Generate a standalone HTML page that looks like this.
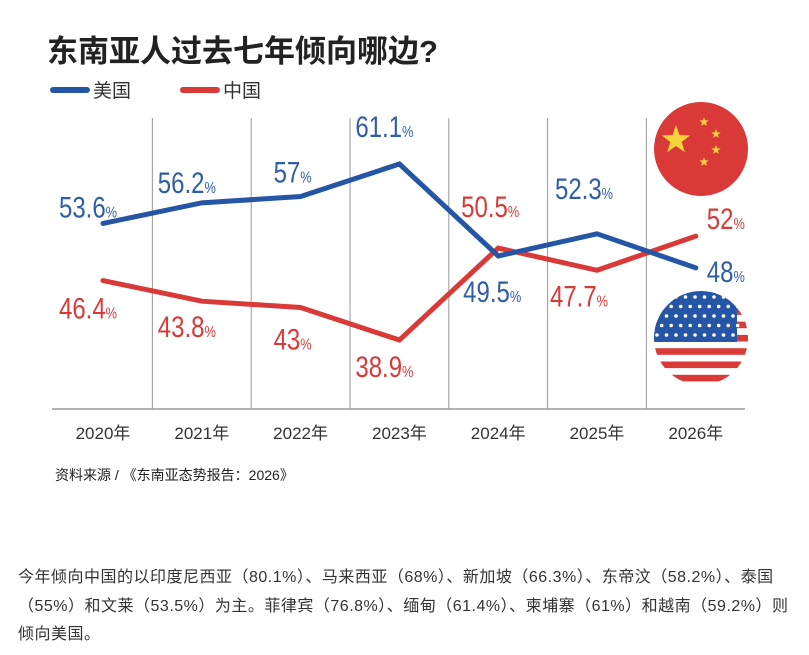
<!DOCTYPE html>
<html><head><meta charset="utf-8">
<style>
html,body{margin:0;padding:0;background:#fff;}
body{width:809px;height:655px;position:relative;overflow:hidden;font-family:"Liberation Sans","Noto Sans CJK SC",sans-serif;}
svg{position:absolute;left:0;top:0;}
.p{position:absolute;left:18px;font-size:16px;letter-spacing:0.5px;color:#333;white-space:nowrap;font-family:"Liberation Sans","Noto Sans CJK SC",sans-serif;}
</style></head>
<body>
<svg id="chart" width="809" height="500">
<text x="47" y="62" font-size="31" font-weight="bold" fill="#222" font-family="'Liberation Sans','Noto Sans CJK SC',sans-serif">东南亚人过去七年倾向哪边?</text>
<g><line x1="53" y1="90" x2="87" y2="90" stroke="#2556a6" stroke-width="6" stroke-linecap="round"/><text x="93" y="97" font-size="19" fill="#333" font-family="'Liberation Sans','Noto Sans CJK SC',sans-serif">美国</text></g>
<g><line x1="183" y1="90" x2="217" y2="90" stroke="#d93a38" stroke-width="6" stroke-linecap="round"/><text x="223" y="97" font-size="19" fill="#333" font-family="'Liberation Sans','Noto Sans CJK SC',sans-serif">中国</text></g>
<g id="grid"></g><g id="xlabels"></g><g id="flags"></g><g id="lines"></g><g id="labels"></g>
<text x="55" y="480" font-size="14" fill="#222" font-family="'Liberation Sans','Noto Sans CJK SC',sans-serif">资料来源 / 《东南亚态势报告：2026》</text>
</svg>
<div class="p" style="top:563px">今年倾向中国的以印度尼西亚（80.1%）、马来西亚（68%）、新加坡（66.3%）、东帝汶（58.2%）、泰国</div>
<div class="p" style="top:592px">（55%）和文莱（53.5%）为主。菲律宾（76.8%）、缅甸（61.4%）、柬埔寨（61%）和越南（59.2%）则</div>
<div class="p" style="top:620px">倾向美国。</div>
<script>
const years = ["2020年","2021年","2022年","2023年","2024年","2025年","2026年"];
const usValues = [53.6,56.2,57,61.1,49.5,52.3,48];
const cnValues = [46.4,43.8,43,38.9,50.5,47.7,52];
const usLabels = ["53.6","56.2","57","61.1","49.5","52.3","48"];
const cnLabels = ["46.4","43.8","43","38.9","50.5","47.7","52"];
const usOff=[[-15,-6],[-15,-10],[-8,-14],[-15,-27],[-6,46],[-13,-35],[30,14]];
const cnOff=[[-15,38],[-15,36],[-8,42],[-15,37],[-8,-31],[-18,36],[30,-7]];
const NS="http://www.w3.org/2000/svg";
const x=i=>103+i*98.8;
const y=v=>164+(61.1-v)*7.93;
function mk(tag,attrs,parent){const e=document.createElementNS(NS,tag);for(const k in attrs)e.setAttribute(k,attrs[k]);parent.appendChild(e);return e;}
const grid=document.getElementById('grid');
for(let i=0;i<6;i++){const l=mk('line',{x1:x(i)+49.4,x2:x(i)+49.4,y1:118,y2:409,stroke:'#999','stroke-width':1},grid);

}
const ax=mk('line',{x1:52,x2:745,y1:409,y2:409,stroke:'#999','stroke-width':1.5},grid);


const xl=document.getElementById('xlabels');
years.forEach((t,i)=>{const e=mk('text',{x:x(i),y:439,'text-anchor':'middle','font-size':17,fill:'#333','font-family':"'Liberation Sans','Noto Sans CJK SC',sans-serif"},xl);e.textContent=t;

});
const fl=document.getElementById('flags');
const cf=mk('g',{},fl);


mk('circle',{cx:701,cy:149,r:47,fill:'#d93a38'},cf);
function star(cx,cy,r,p){let s='';for(let k=0;k<10;k++){const a=-Math.PI/2+k*Math.PI/5;const rr=k%2?r*0.4:r;s+=(cx+rr*Math.cos(a))+','+(cy+rr*Math.sin(a))+' ';}mk('polygon',{points:s,fill:'#f6d23c'},p);}
star(676,140,15,cf);star(704,122,5,cf);star(716,134,5,cf);star(716,150,5,cf);star(704,162,5,cf);
const uf=mk('g',{},fl);


mk('clipPath',{id:'uc'},uf);mk('circle',{cx:701,cy:338,r:47},document.getElementById('uc'));
const ug=mk('g',{'clip-path':'url(#uc)'},uf);
mk('rect',{x:650,y:290,width:110,height:100,fill:'#fff'},ug);
for(let k=0;k<7;k++)mk('rect',{x:650,y:295+k*13.3,width:110,height:6.6,fill:'#d93a38'},ug);
mk('rect',{x:650,y:290,width:87,height:52,fill:'#2556a6'},ug);
for(let r=0;r<5;r++)for(let c=0;c<9;c++)mk('circle',{cx:657+c*9.5+(r%2)*4.7,cy:297+r*9.5,r:1.8,fill:'#fff'},ug);
const lg=document.getElementById('lines');
function series(vals,color,name){const pts=vals.map((v,i)=>x(i)+','+y(v)).join(' ');const p=mk('polyline',{points:pts,fill:'none',stroke:color,'stroke-width':5,'stroke-linecap':'round','stroke-linejoin':'miter'},lg);

}
series(cnValues,'#d93a38','china-line');
series(usValues,'#2556a6','us-line');
const lb=document.getElementById('labels');
function labels(vals,txt,off,color,name){vals.forEach((v,i)=>{const tx=x(i)+off[i][0], ty=y(v)+off[i][1];
const t=mk('text',{x:0,y:0,transform:'translate('+tx+','+ty+') scale(0.8,1)','text-anchor':'middle',fill:color,'font-family':"'Liberation Sans',sans-serif"},lb);


const a=mk('tspan',{'font-size':30},t);a.textContent=txt[i];const b=mk('tspan',{'font-size':16},t);b.textContent='%';});}
labels(usValues,usLabels,usOff,'#2f5ea8','us-value-label');
labels(cnValues,cnLabels,cnOff,'#d93a38','china-value-label');
</script>
</body></html>
